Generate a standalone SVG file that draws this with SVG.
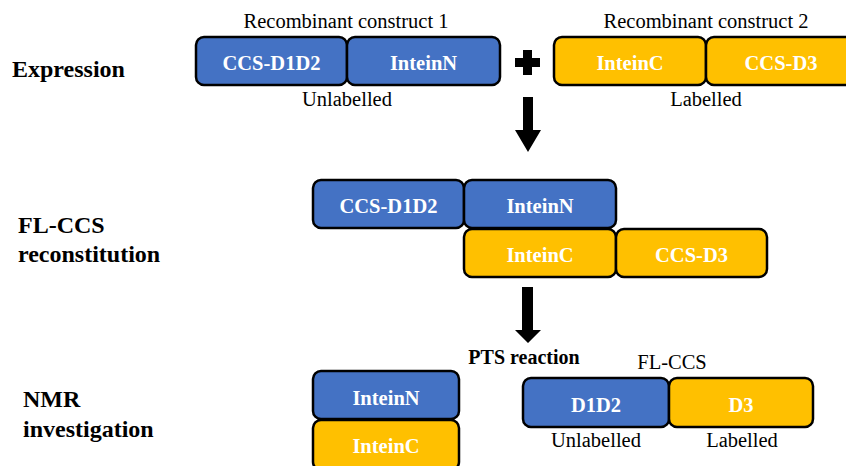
<svg xmlns="http://www.w3.org/2000/svg" width="846" height="466" viewBox="0 0 846 466">
<style>
.b{fill:#4472C4;stroke:#000;stroke-width:2.5}
.y{fill:#FFC000;stroke:#000;stroke-width:2.5}
.bl{font-family:"Liberation Serif","Times New Roman",serif;font-weight:bold;font-size:20.5px;fill:#fff;text-anchor:middle}
.t{font-family:"Liberation Serif","Times New Roman",serif;font-size:20.5px;fill:#000;text-anchor:middle}
.h{font-family:"Liberation Serif","Times New Roman",serif;font-weight:bold;font-size:24px;fill:#000}
.p{font-family:"Liberation Serif","Times New Roman",serif;font-weight:bold;font-size:20px;fill:#000;text-anchor:middle}
</style>
<rect width="846" height="466" fill="#fff"/>
<g id="stage-labels">
<text class="h" x="12" y="77">Expression</text>
<text class="h" x="18" y="233">FL-CCS</text>
<text class="h" x="18" y="262">reconstitution</text>
<text class="h" x="23" y="407">NMR</text>
<text class="h" x="23" y="437">investigation</text>
</g>
<g id="construct1">
<text class="t" x="346" y="28">Recombinant construct 1</text>
<g id="c1-ccsd1d2"><rect class="b" x="196" y="37" width="151" height="48" rx="8"/><text class="bl" x="271.5" y="70">CCS-D1D2</text></g>
<g id="c1-inteinN"><rect class="b" x="347" y="37" width="153" height="48" rx="8"/><text class="bl" x="423.5" y="70">InteinN</text></g>
<text class="t" x="347" y="106">Unlabelled</text>
</g>
<g id="construct2">
<text class="t" x="706" y="28">Recombinant construct 2</text>
<g id="c2-inteinC"><rect class="y" x="554" y="37" width="152" height="48" rx="8"/><text class="bl" x="630" y="70">InteinC</text></g>
<g id="c2-ccsd3"><rect class="y" x="706" y="37" width="152" height="48" rx="8"/><text class="bl" x="781" y="70">CCS-D3</text></g>
<text class="t" x="706" y="106">Labelled</text>
</g>
<g id="reconstitution">
<g id="r-ccsd1d2"><rect class="b" x="313" y="180" width="151" height="48" rx="8"/><text class="bl" x="388.5" y="213">CCS-D1D2</text></g>
<g id="r-inteinN"><rect class="b" x="464" y="180" width="152" height="48" rx="8"/><text class="bl" x="540" y="213">InteinN</text></g>
<g id="r-inteinC"><rect class="y" x="464" y="229" width="152" height="48" rx="8"/><text class="bl" x="540" y="262">InteinC</text></g>
<g id="r-ccsd3"><rect class="y" x="616" y="229" width="151" height="48" rx="8"/><text class="bl" x="691.5" y="262">CCS-D3</text></g>
</g>
<g id="products">
<g id="p-inteinN"><rect class="b" x="313" y="371" width="146" height="48" rx="8"/><text class="bl" x="386" y="405">InteinN</text></g>
<g id="p-inteinC"><rect class="y" x="313" y="420" width="146" height="50" rx="8"/><text class="bl" x="386" y="453">InteinC</text></g>
<text class="t" x="672" y="369">FL-CCS</text>
<g id="p-d1d2"><rect class="b" x="523" y="378" width="146" height="49" rx="8"/><text class="bl" x="596" y="412">D1D2</text></g>
<g id="p-d3"><rect class="y" x="669" y="378" width="144" height="49" rx="8"/><text class="bl" x="741" y="412">D3</text></g>
<text class="t" x="596" y="447">Unlabelled</text>
<text class="t" x="742" y="447">Labelled</text>
</g>
<g id="connectors">
<path d="M523 50h9v8h8v9h-8v8h-9v-8h-8v-9h8z" fill="#000"/>
<path d="M523 97h10v33h8l-13 22l-13-22h8z" fill="#000"/>
<path d="M522 287h11v43h8l-13 13l-13-13h7z" fill="#000"/>
<text class="p" x="524" y="364">PTS reaction</text>
</g>
</svg>
